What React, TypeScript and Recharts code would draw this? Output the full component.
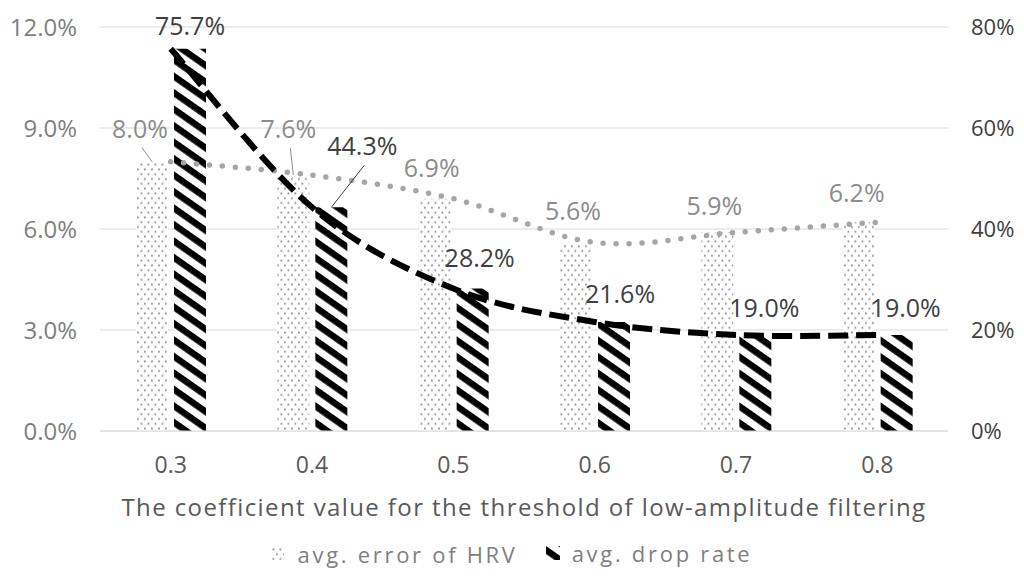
import { ComposedChart, Bar, Line, XAxis, YAxis, CartesianGrid, LabelList } from 'recharts'

const coefficients = ['0.3', '0.4', '0.5', '0.6', '0.7', '0.8']
const hrvError = [8.0, 7.6, 6.9, 5.6, 5.9, 6.2]
const dropRate = [75.7, 44.3, 28.2, 21.6, 19.0, 19.0]
const errorTicks = [0, 3, 6, 9, 12]
const dropTicks = [0, 20, 40, 60, 80]

const data = coefficients.map((coef, i) => ({ coef, error: hrvError[i], drop: dropRate[i] }))

// where the data labels sit, relative to the top centre of their bar
const errorLabelShift = [[-12, -34], [-5, -47], [-3, -32], [-3, -32], [-3, -27], [-2, -30]]
const dropLabelShift = [[0, -24], [31, -62], [7, -32], [6, -29], [9, -28], [9, -28]]
const errorLeader = [true, true, false, false, false, false]
const dropLeader = [false, true, false, false, false, false]

const FONT = "'Open Sans', 'Noto Sans', sans-serif"

// Excel-style smoothed line (Catmull-Rom through the points)
function excelSmooth(context: any) {
  let pts: number[][] = []
  return {
    areaStart() {},
    areaEnd() {},
    lineStart() {
      pts = []
    },
    lineEnd() {
      if (!pts.length) return
      context.moveTo(pts[0][0], pts[0][1])
      for (let i = 0; i < pts.length - 1; i++) {
        const p0 = pts[i - 1] || pts[i]
        const p1 = pts[i]
        const p2 = pts[i + 1]
        const p3 = pts[i + 2] || pts[i + 1]
        context.bezierCurveTo(
          p1[0] + (p2[0] - p0[0]) / 6,
          p1[1] + (p2[1] - p0[1]) / 6,
          p2[0] - (p3[0] - p1[0]) / 6,
          p2[1] - (p3[1] - p1[1]) / 6,
          p2[0],
          p2[1]
        )
      }
    },
    point(x: number, y: number) {
      pts.push([x, y])
    },
  }
}

function makeLabel(shift: number[][], leader: boolean[], color: string, digits: number) {
  return (props: any) => {
    const vb = props.viewBox || {}
    const x = props.x ?? vb.x
    const y = props.y ?? vb.y
    const w = props.width ?? vb.width
    const i = props.index ?? 0
    const cx = x + w / 2
    const lx = cx + shift[i][0]
    const ly = y + shift[i][1]
    return (
      <g>
        {leader[i] && (
          <line x1={lx + 2} y1={ly + 20} x2={cx} y2={y} stroke={color} strokeWidth={1} />
        )}
        <text
          x={lx}
          y={ly}
          textAnchor="middle"
          dominantBaseline="central"
          fill={color}
          fontSize={25}
          fontFamily={FONT}
        >
          {Number(props.value).toFixed(digits) + '%'}
        </text>
      </g>
    )
  }
}

function Patterns() {
  return (
    <defs>
      <pattern id="dots" width="7" height="9.6" patternUnits="userSpaceOnUse">
        <rect width="7" height="9.6" fill="#ffffff" />
        <rect x="0.5" y="0.5" width="1.8" height="1.8" fill="#909090" />
        <rect x="4" y="5.3" width="1.8" height="1.8" fill="#909090" />
      </pattern>
      <pattern
        id="hatch"
        width="14"
        height="13.5"
        patternUnits="userSpaceOnUse"
        patternTransform="rotate(35)"
      >
        <rect width="14" height="13.5" fill="#ffffff" />
        <rect width="14" height="6.5" fill="#000000" />
      </pattern>
    </defs>
  )
}

function LegendItem({ fill, label, size, gap }: { fill: string; label: string; size: number; gap: number }) {
  return (
    <span style={{ display: 'inline-flex', alignItems: 'center', margin: '0 14px' }}>
      <svg width={size} height={size} style={{ marginRight: gap }}>
        <Patterns />
        <rect width={size} height={size} fill={fill} />
      </svg>
      {label}
    </span>
  )
}

export default function App() {
  return (
    <div style={{ position: 'absolute', left: 0, top: 0, width: 1024, height: 582, background: '#fff', fontFamily: FONT }}>
      <ComposedChart
        width={1024}
        height={582}
        data={data}
        margin={{ top: 27, right: 0, left: 0, bottom: 56 }}
        barSize={32}
        barGap={6}
      >
        <Patterns />
        <CartesianGrid yAxisId="left" vertical={false} stroke="#d9d9d9" />
        <XAxis
          dataKey="coef"
          height={95}
          tickLine={false}
          axisLine={{ stroke: '#d9d9d9' }}
          tickMargin={20}
          tick={{ fill: '#595959', fontSize: 23, fontFamily: FONT }}
          label={{
            value: 'The coefficient value for the threshold  of low-amplitude  filtering',
            position: 'insideBottom',
            offset: 10,
            fill: '#595959',
            fontSize: 24,
            fontFamily: FONT,
            letterSpacing: 1.4,
          }}
        />
        <YAxis
          yAxisId="left"
          width={100}
          domain={[0, 12]}
          ticks={errorTicks}
          tickFormatter={(v: number) => v.toFixed(1) + '%'}
          tickLine={false}
          axisLine={false}
          tickMargin={17}
          tick={{ fill: '#7f7f7f', fontSize: 24, fontFamily: FONT }}
        />
        <YAxis
          yAxisId="right"
          orientation="right"
          width={76}
          domain={[0, 80]}
          ticks={dropTicks}
          tickFormatter={(v: number) => v + '%'}
          tickLine={false}
          axisLine={false}
          tickMargin={17}
          tick={{ fill: '#404040', fontSize: 22, fontFamily: FONT, textAnchor: 'start' }}
        />
        <Bar yAxisId="left" dataKey="error" fill="url(#dots)" isAnimationActive={false}>
          <LabelList dataKey="error" content={makeLabel(errorLabelShift, errorLeader, '#8c8c8c', 1)} />
        </Bar>
        <Bar yAxisId="right" dataKey="drop" fill="url(#hatch)" isAnimationActive={false}>
          <LabelList dataKey="drop" content={makeLabel(dropLabelShift, dropLeader, '#404040', 1)} />
        </Bar>
        <Line
          yAxisId="left"
          dataKey="error"
          type={excelSmooth as any}
          stroke="#a6a6a6"
          strokeWidth={5.5}
          strokeDasharray="0 13"
          strokeLinecap="round"
          dot={false}
          activeDot={false}
          isAnimationActive={false}
        />
        <Line
          yAxisId="right"
          dataKey="drop"
          type={excelSmooth as any}
          stroke="#000000"
          strokeWidth={6}
          strokeDasharray="20 8"
          dot={false}
          activeDot={false}
          isAnimationActive={false}
        />
      </ComposedChart>
      <div
        style={{
          position: 'absolute',
          top: 536,
          left: 0,
          width: 1024,
          textAlign: 'center',
          color: '#7f7f7f',
          fontSize: 22,
          letterSpacing: 2.7,
        }}
      >
        <LegendItem fill="url(#dots)" label="avg. error of HRV" size={12} gap={14} />
        <LegendItem fill="url(#hatch)" label="avg. drop rate" size={14} gap={12} />
      </div>
    </div>
  )
}
